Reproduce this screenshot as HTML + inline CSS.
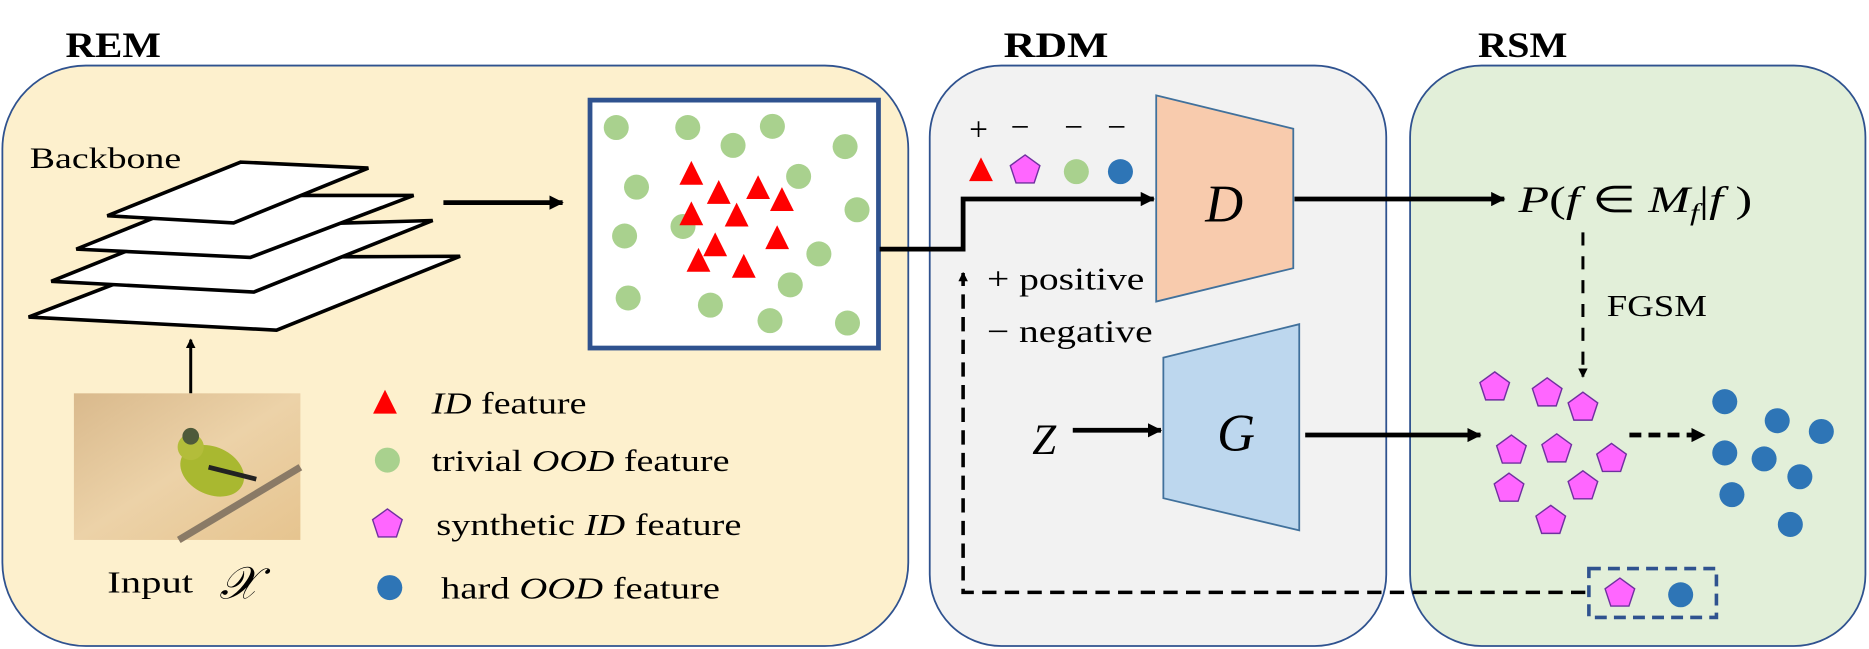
<!DOCTYPE html>
<html><head><meta charset="utf-8"><style>
html,body{margin:0;padding:0;background:#fff;overflow:hidden;}
svg{display:block;}
text{font-family:"Liberation Serif",serif;}
</style></head><body>
<svg width="1869" height="649" viewBox="0 0 1568 544.5" preserveAspectRatio="none" xmlns="http://www.w3.org/2000/svg">
<defs>
<marker id="ah" markerWidth="8" markerHeight="8" refX="7" refY="4" orient="auto" markerUnits="userSpaceOnUse" viewBox="0 0 8 8"><path d="M0,0 L8,4 L0,8 z" fill="#000"/></marker>
<marker id="ah2" markerWidth="12" markerHeight="12" refX="11" refY="6" orient="auto" markerUnits="userSpaceOnUse" viewBox="0 0 12 12"><path d="M0,0 L12,6 L0,12 z" fill="#000"/></marker>
<linearGradient id="bg" x1="0" y1="0" x2="1" y2="1"><stop offset="0" stop-color="#d9b98c"/><stop offset="0.5" stop-color="#ecd2a8"/><stop offset="1" stop-color="#e6c48f"/></linearGradient>
<g id="pent"><polygon points="0,-13 12.4,-4 7.6,10.5 -7.6,10.5 -12.4,-4" fill="#ff66ff" stroke="#7030a0" stroke-width="1.2"/></g>
<g id="tri"><polygon points="0,-11 10,9 -10,9" fill="#ff0000"/></g>
</defs>
<!-- panels -->
<rect x="2" y="55" width="760" height="487" rx="70" fill="#fdf0cd" stroke="#2f528f" stroke-width="1.5"/>
<rect x="780" y="55" width="383" height="487" rx="60" fill="#f2f2f2" stroke="#2f528f" stroke-width="1.5"/>
<rect x="1183" y="55" width="382" height="487" rx="60" fill="#e2efd9" stroke="#2f528f" stroke-width="1.5"/>
<text x="55" y="48" font-size="30" font-weight="bold" textLength="80" lengthAdjust="spacingAndGlyphs">REM</text>
<text x="842" y="48" font-size="30" font-weight="bold" textLength="88" lengthAdjust="spacingAndGlyphs">RDM</text>
<text x="1240" y="48" font-size="30" font-weight="bold" textLength="75" lengthAdjust="spacingAndGlyphs">RSM</text>
<!-- backbone -->
<text x="25" y="141" font-size="25" textLength="127" lengthAdjust="spacingAndGlyphs">Backbone</text>
<g fill="#fff" stroke="#000" stroke-width="3" stroke-linejoin="miter">
<polygon points="154,216 386,215 232,277 24,266"/>
<polygon points="155,191 363,185 213,245 43,236"/>
<polygon points="176,164 347,164 210,216 64,209"/>
<polygon points="202,136 309,141 196,187 90,181"/>
</g>
<line x1="160" y1="330" x2="160" y2="285" stroke="#000" stroke-width="2.5" marker-end="url(#ah)"/>
<!-- bird -->
<rect x="62" y="330" width="190" height="123" fill="url(#bg)"/>
<line x1="150" y1="453" x2="252" y2="392" stroke="#8a7a66" stroke-width="6"/>
<ellipse cx="178" cy="395" rx="28" ry="20" fill="#a9b830" transform="rotate(25 178 395)"/>
<circle cx="160" cy="375" r="11" fill="#b3bd3a"/>
<circle cx="160" cy="366" r="7" fill="#4e5a3a"/>
<path d="M175,392 L215,402" stroke="#222" stroke-width="4"/>
<text x="90" y="497" font-size="26" textLength="72" lengthAdjust="spacingAndGlyphs">Input</text>
<text x="184" y="502" font-size="38" font-style="italic">𝒳</text>
<!-- legend -->
<use href="#tri" x="323" y="338"/>
<text x="362" y="347" font-size="26" textLength="130" lengthAdjust="spacingAndGlyphs"><tspan font-style="italic">ID</tspan> feature</text>
<circle cx="325" cy="386" r="10.5" fill="#a9d18e"/>
<text x="362" y="395" font-size="26" textLength="250" lengthAdjust="spacingAndGlyphs">trivial <tspan font-style="italic">OOD</tspan> feature</text>
<use href="#pent" x="325" y="440"/>
<text x="366" y="449" font-size="26" textLength="256" lengthAdjust="spacingAndGlyphs">synthetic <tspan font-style="italic">ID</tspan> feature</text>
<circle cx="327" cy="493" r="10.5" fill="#2e75b6"/>
<text x="370" y="502" font-size="26" textLength="234" lengthAdjust="spacingAndGlyphs">hard <tspan font-style="italic">OOD</tspan> feature</text>
<!-- arrow to scatter -->
<line x1="372" y1="170" x2="472" y2="170" stroke="#000" stroke-width="4" marker-end="url(#ah2)"/>
<rect x="495" y="84" width="242" height="208" fill="#fff" stroke="#2f528f" stroke-width="4"/>
<g fill="#a9d18e">
<circle cx="517" cy="107" r="10.5"/><circle cx="577" cy="107" r="10.5"/><circle cx="648" cy="106" r="10.5"/><circle cx="709" cy="123" r="10.5"/><circle cx="615" cy="122" r="10.5"/><circle cx="534" cy="157" r="10.5"/><circle cx="670" cy="148" r="10.5"/><circle cx="719" cy="176" r="10.5"/><circle cx="524" cy="198" r="10.5"/><circle cx="573" cy="190" r="10.5"/><circle cx="687" cy="213" r="10.5"/><circle cx="527" cy="250" r="10.5"/><circle cx="596" cy="256" r="10.5"/><circle cx="646" cy="269" r="10.5"/><circle cx="711" cy="271" r="10.5"/><circle cx="663" cy="239" r="10.5"/>
</g>
<use href="#tri" x="580" y="146"/><use href="#tri" x="603" y="162"/><use href="#tri" x="636" y="158"/><use href="#tri" x="656" y="168"/><use href="#tri" x="618" y="181"/><use href="#tri" x="580" y="180"/><use href="#tri" x="600" y="206"/><use href="#tri" x="652" y="200"/><use href="#tri" x="586" y="219"/><use href="#tri" x="624" y="224"/>
<!-- to D -->
<polyline points="738,209 808,209 808,167 968,167" fill="none" stroke="#000" stroke-width="4" marker-end="url(#ah2)"/>
<polygon points="970,80 1085,108 1085,225 970,253" fill="#f8cbad" stroke="#41719c" stroke-width="1.5"/>
<text x="1027" y="186" font-size="44" font-style="italic" text-anchor="middle">D</text>
<polygon points="976,300 1090,272 1090,445 976,418" fill="#bdd7ee" stroke="#41719c" stroke-width="1.5"/>
<text x="1037" y="378" font-size="44" font-style="italic" text-anchor="middle">G</text>
<text x="813" y="118" font-size="28">+</text>
<text x="848" y="116" font-size="28">−</text>
<text x="893" y="116" font-size="28">−</text>
<text x="929" y="116" font-size="28">−</text>
<use href="#tri" x="823" y="143"/>
<use href="#pent" x="860" y="143"/>
<circle cx="903" cy="144" r="10.5" fill="#a9d18e"/>
<circle cx="940" cy="144" r="10.5" fill="#2e75b6"/>
<text x="828" y="243" font-size="27" textLength="132" lengthAdjust="spacingAndGlyphs">+ positive</text>
<text x="828" y="287" font-size="27" textLength="139" lengthAdjust="spacingAndGlyphs">− negative</text>
<!-- D out -->
<line x1="1086" y1="167" x2="1262" y2="167" stroke="#000" stroke-width="4" marker-end="url(#ah2)"/>
<text x="1274" y="178" font-size="31" font-style="italic" textLength="196" lengthAdjust="spacingAndGlyphs">P<tspan font-style="normal">(</tspan>f <tspan font-style="normal">∈</tspan> M<tspan font-size="20" dy="7">f</tspan><tspan dy="-7" font-style="normal">|</tspan>f <tspan font-style="normal">)</tspan></text>
<line x1="1328" y1="195" x2="1328" y2="316" stroke="#000" stroke-width="2.5" stroke-dasharray="11,9" marker-end="url(#ah)"/>
<text x="1348" y="265" font-size="26" textLength="84" lengthAdjust="spacingAndGlyphs">FGSM</text>
<text x="866" y="381" font-size="36" font-style="italic">Z</text>
<line x1="900" y1="361" x2="974" y2="361" stroke="#000" stroke-width="4" marker-end="url(#ah2)"/>
<line x1="1095" y1="365" x2="1242" y2="365" stroke="#000" stroke-width="4" marker-end="url(#ah2)"/>
<line x1="1367" y1="365" x2="1430" y2="365" stroke="#000" stroke-width="4" stroke-dasharray="10,6" marker-end="url(#ah2)"/>
<use href="#pent" x="1254" y="325"/><use href="#pent" x="1298" y="330"/><use href="#pent" x="1328" y="342"/><use href="#pent" x="1268" y="378"/><use href="#pent" x="1306" y="377"/><use href="#pent" x="1352" y="385"/><use href="#pent" x="1266" y="410"/><use href="#pent" x="1328" y="408"/><use href="#pent" x="1301" y="437"/>
<g fill="#2e75b6">
<circle cx="1447" cy="337" r="10.5"/><circle cx="1491" cy="353" r="10.5"/><circle cx="1528" cy="362" r="10.5"/><circle cx="1447" cy="380" r="10.5"/><circle cx="1480" cy="385" r="10.5"/><circle cx="1510" cy="400" r="10.5"/><circle cx="1453" cy="415" r="10.5"/><circle cx="1502" cy="440" r="10.5"/>
</g>
<!-- feedback dashed -->
<rect x="1333" y="477" width="107" height="41" fill="none" stroke="#2f528f" stroke-width="3" stroke-dasharray="10,6"/>
<use href="#pent" x="1359" y="498"/>
<circle cx="1410" cy="499" r="10.5" fill="#2e75b6"/>
<polyline points="1330,497 808,497 808,229" fill="none" stroke="#000" stroke-width="3" stroke-dasharray="12,7" marker-end="url(#ah)"/>
</svg>
</body></html>
